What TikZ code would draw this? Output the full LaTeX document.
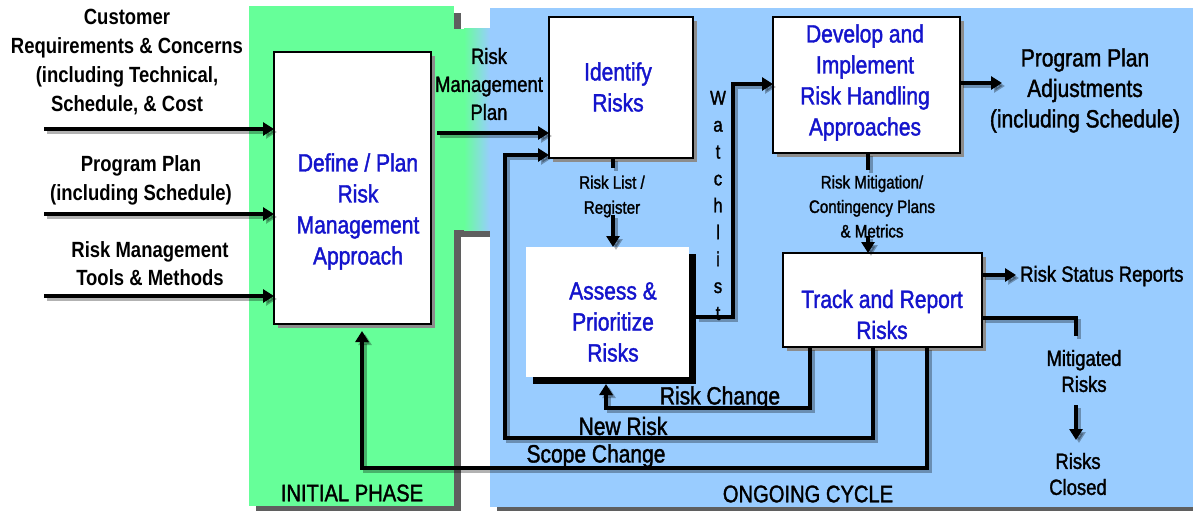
\documentclass[tikz,border=0pt]{standalone}
\usepackage{fontspec}
\setmainfont{Liberation Sans}[FakeStretch=0.84]
\newfontfamily\nf{Liberation Sans}[FakeStretch=0.84,FakeBold=1.5]
\usetikzlibrary{arrows.meta,shadows}
\definecolor{pgreen}{HTML}{66FF99}
\definecolor{pblue}{HTML}{99CCFF}
\definecolor{pshadow}{HTML}{5F5F5F}
\definecolor{btext}{HTML}{1414CC}
\definecolor{bshadow}{HTML}{8C8C8C}
\tikzset{
  bx/.style={draw=black, line width=1.3pt, fill=white, inner sep=0pt, outer sep=0pt,
    drop shadow={shadow xshift=4pt, shadow yshift=-4pt, fill=bshadow, opacity=1}},
  btxt/.style={text=btext, align=center, inner sep=0pt, font=\nf\fontsize{25}{31}\selectfont},
  ktxt/.style={text=black, align=center, inner sep=0pt},
  conn/.style={line width=4pt, -{Triangle[length=11pt,width=13pt]},
    preaction={draw=black, opacity=0.3, line width=4pt, -{Triangle[length=11pt,width=13pt]},
      transform canvas={shift={(3pt,-3pt)}}}},
  connnt/.style={line width=4pt,
    preaction={draw=black, opacity=0.3, line width=4pt,
      transform canvas={shift={(3pt,-3pt)}}}}
}
\begin{document}
\begin{tikzpicture}[x=1pt,y=-1pt]
\useasboundingbox (0,0) rectangle (1193,511);
% panels
\fill[pshadow] (256,13) rectangle (461,511);
\fill[pshadow] (461,36) rectangle (497,237);
\fill[pshadow] (497,15) rectangle (1193,511);
\fill[pgreen] (249,6) rectangle (454,506);
\fill[pblue] (490,8) rectangle (1193,507);
\fill[pgreen] (454,29) rectangle (464,230);
\shade[left color=pgreen, right color=pblue] (464,29) rectangle (490,230);

% boxes
\node[bx, minimum width=157pt, minimum height=272pt] (define) at (352.5,188) {};
\node[bx, minimum width=144pt, minimum height=141pt] (identify) at (621,87.5) {};
\node[bx, minimum width=187pt, minimum height=136pt] (develop) at (866.5,85) {};
\node[fill=white, inner sep=0pt, outer sep=0pt, minimum width=163pt, minimum height=130pt,
  drop shadow={shadow xshift=7pt, shadow yshift=-7pt, fill=black, opacity=1}] (assess) at (607.5,312) {};
\node[bx, minimum width=199pt, minimum height=94pt] (track) at (882.5,300) {};

% box texts
\node[btxt] (defineT) at (358,211.5) {Define / Plan\\Risk\\Management\\Approach};
\node[btxt] (identifyT) at (618,87) {Identify\\Risks};
\node[btxt] (developT) at (865,82.5) {Develop and\\Implement\\Risk Handling\\Approaches};
\node[btxt] (assessT) at (613,322) {Assess \&\\Prioritize\\Risks};
\node[btxt] (trackT) at (882,314.5) {Track and Report\\Risks};

% input texts
\node[ktxt, font=\bfseries\fontsize{22}{29}\selectfont] (custT) at (127,62.5) {Customer\\Requirements \& Concerns\\(including Technical,\\Schedule, \& Cost};
\node[ktxt, font=\bfseries\fontsize{22}{29}\selectfont] (progT) at (141,180.5) {Program Plan\\(including Schedule)};
\node[ktxt, font=\bfseries\fontsize{22}{28}\selectfont] (toolsT) at (150,264) {Risk Management\\Tools \& Methods};

% other labels
\node[ktxt, font=\nf\fontsize{22}{28}\selectfont] (rmpT) at (489,84) {Risk\\Management\\Plan};
\node[ktxt, font=\nf\fontsize{18}{25}\selectfont] (rlT) at (612,196.5) {Risk List /\\Register};
\node[ktxt, font=\nf\fontsize{25}{30.5}\selectfont] (ppaT) at (1085,90.5) {Program Plan\\Adjustments\\(including Schedule)};
\node[ktxt, font=\nf\fontsize{18}{24.5}\selectfont] (rmT) at (872,206.5) {Risk Mitigation/\\Contingency Plans\\\& Metrics};
\node[ktxt, font=\nf\fontsize{22}{26}\selectfont, anchor=west] (rsrT) at (1020,276) {Risk Status Reports};
\node[ktxt, font=\nf\fontsize{22}{26}\selectfont] (mitT) at (1084,371) {Mitigated\\Risks};
\node[ktxt, font=\nf\fontsize{22}{26}\selectfont] (closedT) at (1078,474) {Risks\\Closed};
\node[ktxt, font=\nf\fontsize{25}{30}\selectfont] (rcT) at (720,398) {Risk Change};
\node[ktxt, font=\nf\fontsize{25}{30}\selectfont] (nrT) at (623,426) {New Risk};
\node[ktxt, font=\nf\fontsize{25}{30}\selectfont] (scT) at (596,456) {Scope Change};
\node[ktxt, font=\nf\fontsize{24}{30}\selectfont] (ogT) at (808,494) {ONGOING CYCLE};
\node[ktxt, font=\nf\fontsize{24}{30}\selectfont] (ipT) at (352,493) {INITIAL PHASE};
\node[ktxt, font=\nf\fontsize{20}{26.9}\selectfont] (wlT) at (718,205.5) {W\\a\\t\\c\\h\\l\\i\\s\\t};

% coordinates
\coordinate (in1) at (44,129);
\coordinate (in2) at (44,214);
\coordinate (in3) at (44,296);
\coordinate (rmpA) at (437,133);
\coordinate (nrB) at (873,438);
\coordinate (nrL) at (505,155);
\coordinate (rcB) at (810,408);
\coordinate (rcL) at (606,408);
\coordinate (assessSh) at ([yshift=-7pt]assess.south);
\coordinate (assessR) at ([xshift=7pt]assess.east);
\coordinate (scB) at (927,468);
\coordinate (scL) at (362,468);
\coordinate (defBot) at ([yshift=-7pt]define.south);
\coordinate (wl1) at (733,317);
\coordinate (wl2) at (733,84);
\coordinate (ppaA) at (1002,83);
\coordinate (rlS) at (613,168);
\coordinate (rlA) at (613,215);
\coordinate (rmS) at (868,170);
\coordinate (rmA) at (868,236);
\coordinate (rsrA) at (1016,275);
\coordinate (mtC) at (1076,318);
\coordinate (mtE) at (1076,336);
\coordinate (mcA) at (1076,405);
\coordinate (mcB) at (1076,440);

% connectors
\draw[conn] (in1) -- (in1 -| define.west);
\draw[conn] (in2) -- (in2 -| define.west);
\draw[conn] (in3) -- (in3 -| define.west);
\draw[conn] (rmpA) -- (rmpA -| identify.west);
\draw[conn] (track.south -| nrB) -- (nrB) -| (nrL) -- (nrL -| identify.west);
\draw[conn] (track.south -| rcB) -- (rcB) -- (rcL) -- (rcL |- assessSh);
\draw[conn] (track.south -| scB) -- (scB) -- (scL) -- (scL |- defBot);
\draw[conn] (assessR |- wl1) -- (wl1) -- (wl2) -- (wl2 -| develop.west);
\draw[conn] (ppaA -| develop.east) -- (ppaA);
\draw[connnt] (identify.south -| rlS) -- (rlS);
\draw[conn] (rlA) -- (rlA |- assess.north);
\draw[connnt] (develop.south -| rmS) -- (rmS);
\draw[conn] (rmA) -- (rmA |- track.north);
\draw[conn] (rsrA -| track.east) -- (rsrA);
\draw[connnt] (mtC -| track.east) -- (mtC) -- (mtE);
\draw[conn] (mcA) -- (mcB);
\end{tikzpicture}
\end{document}
